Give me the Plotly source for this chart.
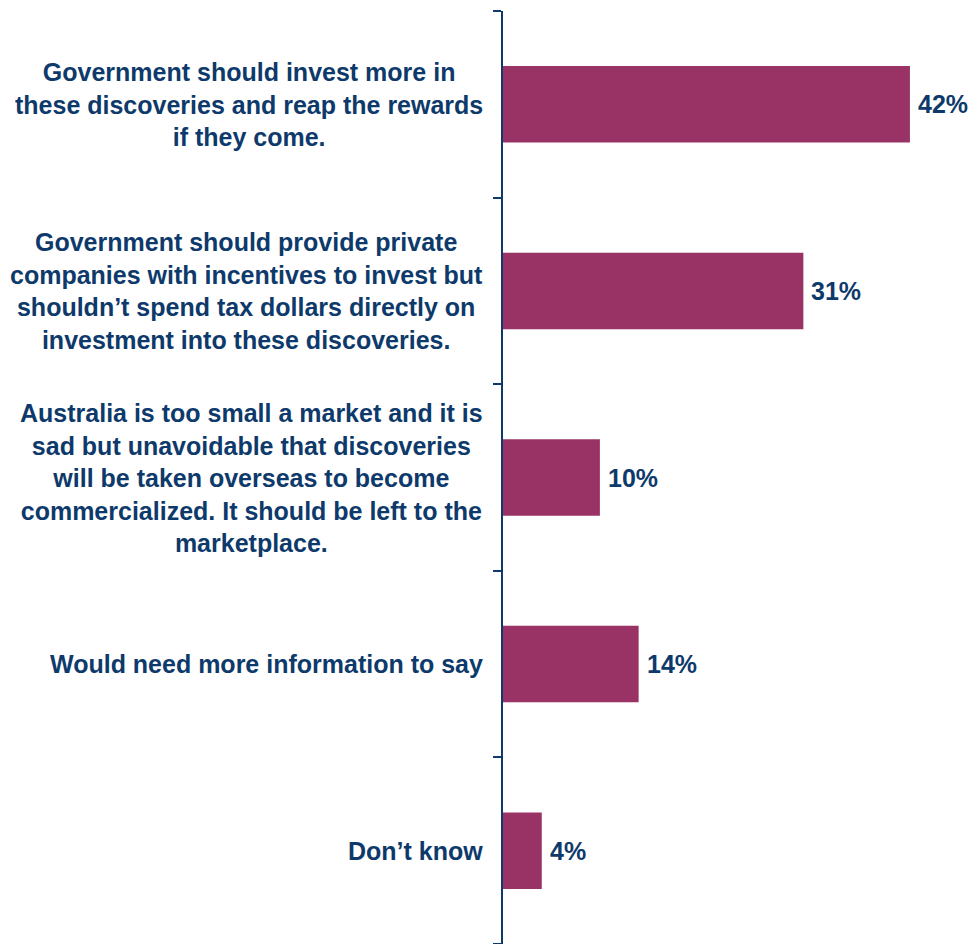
import plotly.graph_objects as go

# Survey responses, top to bottom
categories = [
    "Government should invest more in<br>these discoveries and reap the rewards<br>if they come.",
    "Government should provide private<br>companies with incentives to invest but<br>shouldn\u2019t spend tax dollars directly on<br>investment into these discoveries.",
    "Australia is too small a market and it is<br>sad but unavoidable that discoveries<br>will be taken overseas to become<br>commercialized. It should be left to the<br>marketplace.",
    "Would need more information to say",
    "Don\u2019t know",
]
values = [42, 31, 10, 14, 4]

BAR = "#993366"
NAVY = "#0E3A6B"
FONT = "Liberation Sans, Arial, sans-serif"
SIZE = 25

keys = [f"c{i}" for i in range(len(categories))]

fig = go.Figure(
    go.Bar(
        x=values,
        y=keys,
        orientation="h",
        marker=dict(color=BAR, line=dict(width=0)),
        width=0.41,
        hoverinfo="skip",
    )
)

# Category labels, centred lines, right-aligned against the axis
for k, label in zip(keys, categories):
    fig.add_annotation(
        x=0, xref="paper", y=k, yref="y",
        text=f"<b>{label}</b>", showarrow=False,
        xanchor="right", yanchor="middle", align="center", xshift=-18,
        font=dict(family=FONT, size=SIZE, color=NAVY),
    )

# Value labels at the end of each bar
for k, v in zip(keys, values):
    fig.add_annotation(
        x=v, xref="x", y=k, yref="y",
        text=f"<b>{v}%</b>", showarrow=False,
        xanchor="left", yanchor="middle", xshift=6,
        font=dict(family=FONT, size=SIZE, color=NAVY),
    )

fig.update_layout(
    width=972, height=944,
    margin=dict(l=503, r=33, t=11, b=0),
    paper_bgcolor="white", plot_bgcolor="white",
    showlegend=False,
    xaxis=dict(range=[0, 45], visible=False, fixedrange=True),
    yaxis=dict(
        categoryorder="array", categoryarray=keys[::-1],
        showticklabels=False, showgrid=False, zeroline=False,
        showline=True, linecolor=NAVY, linewidth=2,
        ticks="outside", ticklen=8, tickwidth=2, tickcolor=NAVY,
        tickson="boundaries",
    ),
)

fig.write_html("out.html")
